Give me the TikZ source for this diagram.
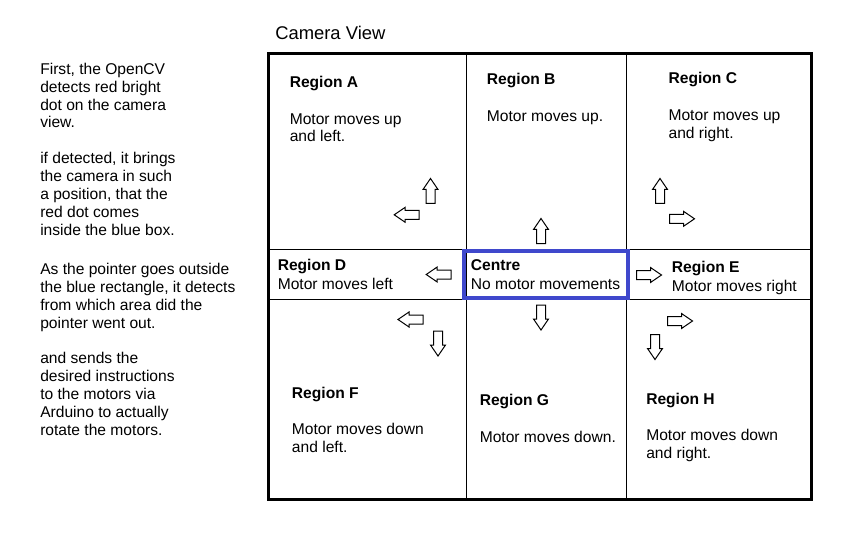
\documentclass[tikz,border=0pt]{standalone}
\usepackage{fontspec}
\setmainfont{Liberation Sans}
\definecolor{centreblue}{RGB}{63,72,204}
\begin{document}
\begin{tikzpicture}[x=0.75pt, y=-0.75pt,
    txt/.style={anchor=base west, inner sep=0pt, align=left, font=\fontsize{11.7}{13.4}\selectfont},
    head/.style={txt, font=\fontsize{11.7}{13.4}\selectfont\bfseries},
    blockarrow/.pic={\draw[line width=0.75pt, fill=white] (-12.5,-4.5) -- (1.5,-4.5) -- (1.5,-7.5) -- (12.5,0) -- (1.5,7.5) -- (1.5,4.5) -- (-12.5,4.5) -- cycle;}]
    \useasboundingbox (0,0) rectangle (852,552);
    \fill[white] (0,0) rectangle (852,552);

    \node[txt] (introA) at (40,128) {First, the OpenCV\\detects red bright\\dot on the camera\\view.};
    \node[txt] (introB) at (40,235) {if detected, it brings\\the camera in such\\a position, that the\\red dot comes\\inside the blue box.};
    \node[txt] (introC) at (40,328) {As the pointer goes outside\\the blue rectangle, it detects\\from which area did the\\pointer went out.};
    \node[txt] (introD) at (40,435) {and sends the\\desired instructions\\to the motors via\\Arduino to actually\\rotate the motors.};

    \node[txt, font=\fontsize{13.8}{16}\selectfont] (title) at (275,40) {Camera View};

    \draw[line width=0.75pt] (268.5,249.5) -- (811.5,249.5);
    \draw[line width=0.75pt] (268.5,299) -- (811.5,299);
    \draw[line width=0.75pt] (466.5,53.5) -- (466.5,499);
    \draw[line width=0.75pt] (626,53.5) -- (626,499);
    \draw[line width=2.25pt] (268.5,53.5) rectangle (811.5,499);
    \draw[line width=3.4pt, centreblue] (463.8,250.8) rectangle (628,298.2);

    \node[head] (regA) at (289.5,87.3) {Region A};
    \node[txt] (motA) at (289.5,142) {Motor moves up\\and left.};
    \node[head] (regB) at (486.7,85) {Region B};
    \node[txt] (motB) at (486.7,121.7) {Motor moves up.};
    \node[head] (regC) at (668.3,84) {Region C};
    \node[txt] (motC) at (668.3,138.5) {Motor moves up\\and right.};

    \node[head] (regD) at (277.5,270.7) {Region D};
    \node[txt] (motD) at (277.5,289.3) {Motor moves left};
    \node[head] (centre) at (470.7,270.7) {Centre};
    \node[txt] (motCentre) at (470.7,289.3) {No motor movements};
    \node[head] (regE) at (671.7,272.7) {Region E};
    \node[txt] (motE) at (671.7,291.7) {Motor moves right};

    \node[head] (regF) at (291.7,398.3) {Region F};
    \node[txt] (motF) at (291.7,452.7) {Motor moves down\\and left.};
    \node[head] (regG) at (479.5,405) {Region G};
    \node[txt] (motG) at (479.5,442.7) {Motor moves down.};
    \node[head] (regH) at (646,404) {Region H};
    \node[txt] (motH) at (646,458.5) {Motor moves down\\and right.};

    \foreach \x/\y/\a in {430.5/191/90, 406.7/214.8/180, 541/231/90, 438.7/274.5/180,
        660/191/90, 682/218.8/0, 649/275/0,
        410.5/319.5/180, 438/343.5/-90, 541/317.5/-90, 680/321/0, 655/347/-90}
    {\pic[rotate=\a] at (\x,\y) {blockarrow};}
\end{tikzpicture}
\end{document}
